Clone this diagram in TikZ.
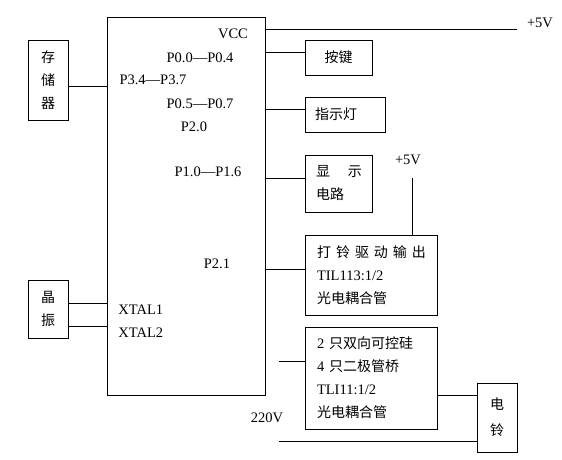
\documentclass[tikz,border=0pt]{standalone}
\usepackage{fontspec}
\setmainfont{Liberation Serif}
\newfontfamily\cjk{Noto Sans CJK SC}
\newcommand\zh[1]{{\cjk\fontsize{14}{23}\selectfont #1}}
\newcommand\gp{\kern5pt}

\begin{document}
\begin{tikzpicture}
	 [x=1pt,y=-1pt,line width=.8pt,
	  every node/.style={inner sep=0pt,font=\fontsize{14.5}{23}\selectfont},
	  blk/.style={draw},
	  txt/.style={align=left}]
	\useasboundingbox (0,0) rectangle (562,459);

%	the chip
	  \node[blk,minimum width=158,minimum height=378] (mcu) at (186,206) {};
	  \node (vcc) at (233,34) {VCC};
	  \node (l00) at (200,58) {P0.0---P0.4};
	  \node (l34) at (153,80) {P3.4---P3.7};
	  \node (l05) at (200,104) {P0.5---P0.7};
	  \node (l20) at (194,127) {P2.0};
	  \node (l10) at (208,172) {P1.0---P1.6};
	  \node (l21) at (217,264) {P2.1};
	  \node[anchor=west] (lx1) at (118,310) {XTAL1};
	  \node[anchor=west] (lx2) at (118,333) {XTAL2};

%	left side
	  \node[blk,minimum width=40,minimum height=80,align=center] (mem) at (48,80) {\zh{存}\\\zh{储}\\\zh{器}};
	  \node[blk,minimum width=40,minimum height=58,align=center] (osc) at (48,309) {\zh{晶}\\\zh{振}};

%	right side
	  \node[blk,minimum width=67,minimum height=35] (key) at (338.5,57.5) {\zh{按键}};
	  \node[blk,txt,text width=60,minimum width=80,minimum height=35] (led) at (345,114.5) {\zh{指示灯}};
	  \node[blk,txt,text width=45,minimum width=67,minimum height=57] (disp) at (338.5,183.5) {\zh{显\kern18pt 示}\\\zh{电路}};
	  \node[blk,txt,text width=108,minimum width=132,minimum height=80] (drv) at (371,275)
	    {\zh{打\gp 铃\gp 驱\gp 动\gp 输\gp 出}\\TIL113:1/2\\\zh{光电耦合管}};
	  \node[blk,txt,text width=108,minimum width=132,minimum height=102] (tri) at (371,378)
	    {2 \zh{只双向可控硅}\\4 \zh{只二极管桥}\\TLI11:1/2\\\zh{光电耦合管}};
	  \node[blk,minimum width=40,minimum height=69,align=center] (bell) at (497,417.5) {\zh{电}\\[3pt]\zh{铃}};

	  \node (v5top) at (540,23) {+5V};
	  \node (v5mid) at (408,160) {+5V};
	  \node (ac) at (267,418) {220V};

	  \coordinate (pvcc) at (265,29);
	  \coordinate (p00) at (265,52);
	  \coordinate (p05) at (265,109);
	  \coordinate (p10) at (265,178);
	  \coordinate (p21) at (265,269);
	  \coordinate (p34) at (107,86);
	  \coordinate (x1) at (107,303);
	  \coordinate (x2) at (107,326);
	  \coordinate (vend) at (517,29);
	  \coordinate (vdrv) at (412,178);
	  \coordinate (ac1) at (279,361);
	  \coordinate (ac2) at (279,441);
	  \coordinate (tb) at (437,395);

	\draw (pvcc) -- (vend);
	\foreach \from/\to in {p00/key,p05/led,p10/disp,p21/drv,ac1/tri,ac2/bell,tb/bell}
    \draw (\from) -- (\from -| \to.west);
	\foreach \from/\to in {p34/mem,x1/osc,x2/osc}
    \draw (\from) -- (\from -| \to.east);
	\draw (vdrv) -- (vdrv |- drv.north);

\end{tikzpicture}
\end{document}
